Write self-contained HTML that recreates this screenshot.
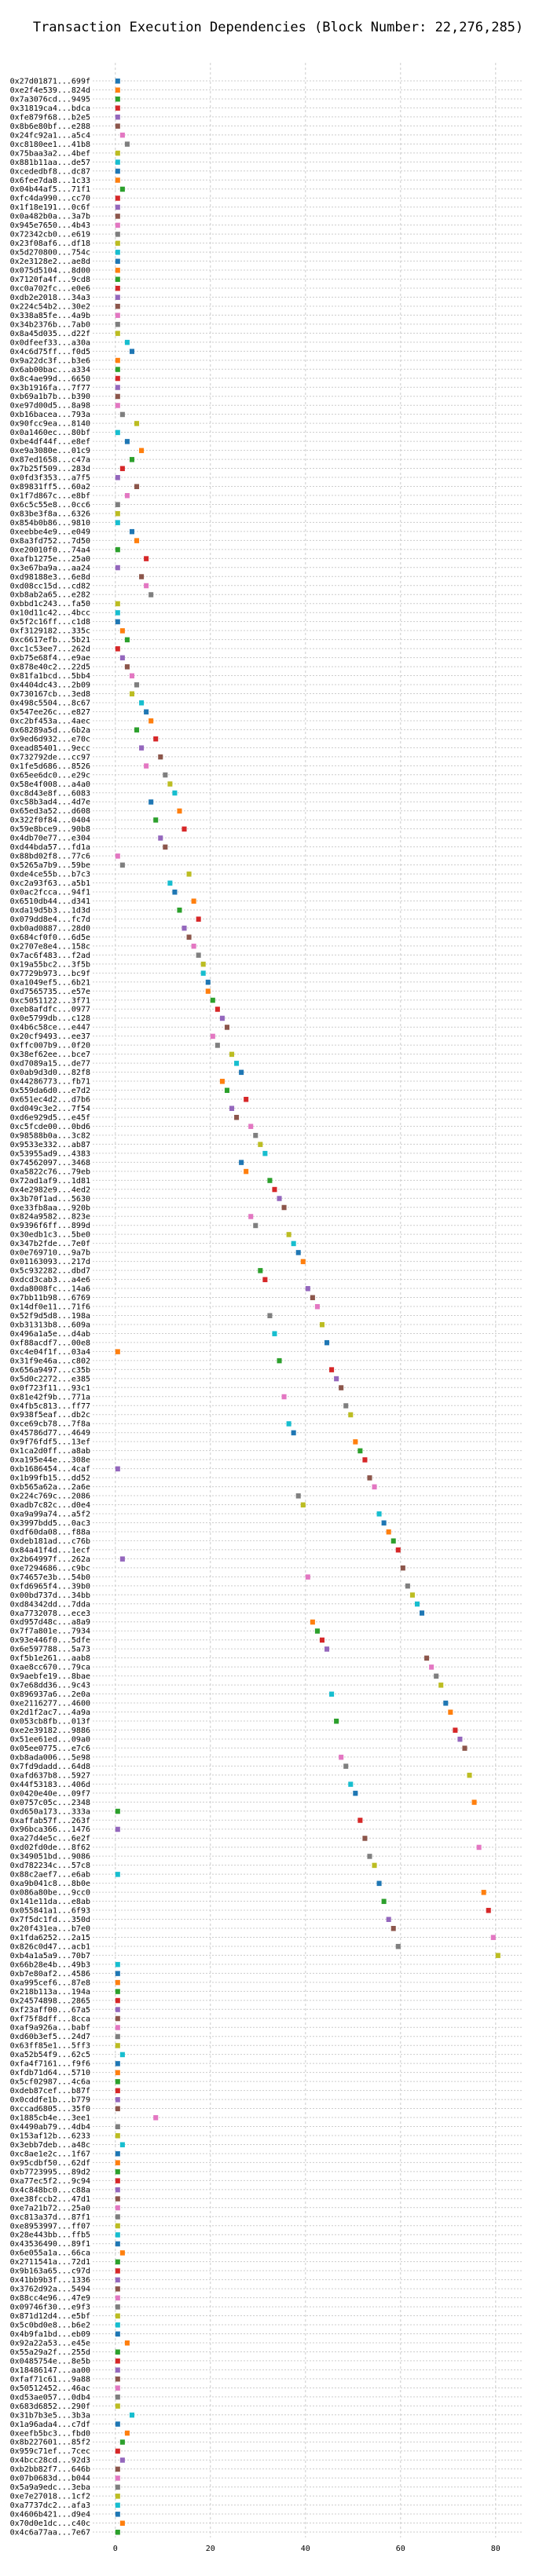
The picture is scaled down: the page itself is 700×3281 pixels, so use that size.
<!DOCTYPE html>
<html>
<head>
<meta charset="utf-8">
<style>
  html,body{margin:0;padding:0;background:#fff;}
  body{width:700px;height:3276px;overflow:hidden;}
  svg text{font-family:"DejaVu Sans Mono","Liberation Mono",monospace;}
</style>
</head>
<body>
<svg id="chart" width="700" height="3276" viewBox="0 0 700 3276" xmlns="http://www.w3.org/2000/svg">
  <text x="354" y="40" font-size="17" text-anchor="middle" fill="#000">Transaction Execution Dependencies (Block Number: 22,276,285)</text>
  <g id="grid"></g>
  <g id="rows"></g>
  <g id="marks"></g>
  <g id="ylabels"></g>
  <g id="xticks"></g>
</svg>
<script>
const txLabels = [
"0x27d01871...699f","0xe2f4e539...824d","0x7a3076cd...9495","0x31819ca4...bdca","0xfe879f68...b2e5","0x8b6e80bf...e288","0x24fc92a1...a5c4","0xc8180ee1...41b8","0x75baa3a2...4bef","0x881b11aa...de57",
"0xcededbf8...dc87","0x6fee7da8...1c33","0x04b44af5...71f1","0xfc4da990...cc70","0x1f18e191...0c6f","0x0a482b0a...3a7b","0x945e7650...4b43","0x72342cb0...e619","0x23f08af6...df18","0x5d270800...754c",
"0x2e3128e2...ae8d","0x075d5104...8d00","0x7120fa4f...9cd8","0xc0a702fc...e0e6","0xdb2e2018...34a3","0x224c54b2...30e2","0x338a85fe...4a9b","0x34b2376b...7ab0","0x8a45d035...d22f","0x0dfeef33...a30a",
"0x4c6d75ff...f0d5","0x9a22dc3f...b3e6","0x6ab00bac...a334","0x8c4ae99d...6650","0x3b1916fa...7f77","0xb69a1b7b...b390","0xe97d00d5...8a98","0xb16bacea...793a","0x90fcc9ea...8140","0x0a1460ec...80bf",
"0xbe4df44f...e8ef","0xe9a3080e...01c9","0x87ed1658...c47a","0x7b25f509...283d","0x0fd3f353...a7f5","0x89831ff5...60a2","0x1f7d867c...e8bf","0x6c5c55e8...0cc6","0x83be3f8a...6326","0x854b0b86...9810",
"0xeebbe4e9...e049","0x8a3fd752...7d50","0xe20010f0...74a4","0xafb1275e...25a0","0x3e67ba9a...aa24","0xd98188e3...6e8d","0xd08cc15d...cd82","0xb8ab2a65...e282","0xbbd1c243...fa50","0x10d11c42...4bcc",
"0x5f2c16ff...c1d8","0xf3129182...335c","0xc6617efb...5b21","0xc1c53ee7...262d","0xb75e68f4...e9ae","0x878e40c2...22d5","0x81fa1bcd...5bb4","0x4404dc43...2b09","0x730167cb...3ed8","0x498c5504...8c67",
"0x547ee26c...e827","0xc2bf453a...4aec","0x68289a5d...6b2a","0x9ed6d932...e70c","0xead85401...9ecc","0x732792de...cc97","0x1fe5d686...8526","0x65ee6dc0...e29c","0x58e4f008...a4a0","0xc8d43e8f...6083",
"0xc58b3ad4...4d7e","0x65ed3a52...d608","0x322f0f84...0404","0x59e8bce9...90b8","0x4db70e77...e304","0xd44bda57...fd1a","0x88bd02f8...77c6","0x5265a7b9...59be","0xde4ce55b...b7c3","0xc2a93f63...a5b1",
"0x0ac2fcca...94f1","0x6510db44...d341","0xda19d5b3...1d3d","0x079dd8e4...fc7d","0xb0ad0887...28d0","0x684cf0f0...6d5e","0x2707e8e4...158c","0x7ac6f483...f2ad","0x19a55bc2...3f5b","0x7729b973...bc9f",
"0xa1049ef5...6b21","0xd7565735...e57e","0xc5051122...3f71","0xeb8afdfc...0977","0x0e5799db...c128","0x4b6c58ce...e447","0x20cf9493...ee37","0xffc007b9...0f20","0x38ef62ee...bce7","0xd7089a15...de77",
"0x0ab9d3d0...82f8","0x44286773...fb71","0x559da6d0...e7d2","0x651ec4d2...d7b6","0xd049c3e2...7f54","0xd6e929d5...e45f","0xc5fcde00...0bd6","0x98588b0a...3c82","0x9533e332...ab87","0x53955ad9...4383",
"0x74562097...3468","0xa5822c76...79eb","0x72ad1af9...1d81","0x4e2982e9...4ed2","0x3b70f1ad...5630","0xe33fb8aa...920b","0x824a9582...823e","0x9396f6ff...899d","0x30edb1c3...5be0","0x347b2fde...7e0f",
"0x0e769710...9a7b","0x01163093...217d","0x5c932282...dbd7","0xdcd3cab3...a4e6","0xda8008fc...14a6","0x7bb11b98...6769","0x14df0e11...71f6","0x52f9d5d8...198a","0xb31313b8...609a","0x496a1a5e...d4ab",
"0xf88acdf7...00e8","0xc4e04f1f...03a4","0x31f9e46a...c802","0x656a9497...c35b","0x5d0c2272...e385","0x0f723f11...93c1","0x81e42f9b...771a","0x4fb5c813...ff77","0x938f5eaf...db2c","0xce69cb78...7f8a",
"0x45786d77...4649","0x9f76fdf5...13ef","0x1ca2d0ff...a8ab","0xa195e44e...308e","0xb1686454...4caf","0x1b99fb15...dd52","0xb565a62a...2a6e","0x224c769c...2086","0xadb7c82c...d0e4","0xa9a99a74...a5f2",
"0x3997bdd5...0ac3","0xdf60da08...f88a","0xdeb181ad...c76b","0x84a41f4d...1ecf","0x2b64997f...262a","0xe7294686...c9bc","0x74657e3b...54b0","0xfd6965f4...39b0","0x00bd737d...34bb","0xd84342dd...7dda",
"0xa7732078...ece3","0xd957d48c...a8a9","0x7f7a801e...7934","0x93e446f0...5dfe","0x6e597788...5a73","0xf5b1e261...aab8","0xae8cc670...79ca","0x9aebfe19...8bae","0x7e68dd36...9c43","0x896937a6...2e0a",
"0xe2116277...4600","0x2d1f2ac7...4a9a","0x053cb8fb...013f","0xe2e39182...9886","0x51ee61ed...09a0","0x05ee0775...e7c6","0xb8ada006...5e98","0x7fd9dadd...64d8","0xafd637b8...5927","0x44f53183...406d",
"0x0420e40e...09f7","0x0757c05c...2348","0xd650a173...333a","0xaffab57f...263f","0x96bca366...1476","0xa27d4e5c...6e2f","0xd02fd0de...8f62","0x349051bd...9086","0xd782234c...57c8","0x88c2aef7...e6ab",
"0xa9b041c8...8b0e","0x086a80be...9cc0","0x141e11da...e8ab","0x055841a1...6f93","0x7f5dc1fd...350d","0x20f431ea...b7e0","0x1fda6252...2a15","0x826c0d47...acb1","0xb4a1a5a9...70b7","0x66b28e4b...49b3",
"0xb7e80af2...4586","0xa995cef6...87e8","0x218b113a...194a","0x24574898...2865","0xf23aff00...67a5","0xf75f8dff...8cca","0xaf9a926a...babf","0xd60b3ef5...24d7","0x63ff85e1...5ff3","0xa52b54f9...62c5",
"0xfa4f7161...f9f6","0xfdb71d64...5710","0x5cf02987...4c6a","0xdeb87cef...b87f","0x0cddfe1b...b779","0xccad6805...35f0","0x1885cb4e...3ee1","0x4490ab79...4db4","0x153af12b...6233","0x3ebb7deb...a48c",
"0xc8ae1e2c...1f67","0x95cdbf50...62df","0xb7723995...89d2","0xa77ec5f2...9c94","0x4c848bc0...c88a","0xe38fccb2...47d1","0xe7a21b72...25a0","0xc813a37d...87f1","0xe8953997...ff07","0x28e443bb...ffb5",
"0x43536490...89f1","0x6e055a1a...66ca","0x2711541a...72d1","0x9b163a65...c97d","0x41bb9b3f...1336","0x3762d92a...5494","0x88cc4e96...47e9","0x09746f30...e9f3","0x871d12d4...e5bf","0x5c0bd0e8...b6e2",
"0x4b9fa1bd...eb09","0x92a22a53...e45e","0x55a29a2f...255d","0x0485754e...8e5b","0x18486147...aa00","0xfaf71c61...9a88","0x50512452...46ac","0xd53ae057...0db4","0x683d6852...290f","0x31b7b3e5...3b3a",
"0x1a96ada4...c7df","0xeefb5bc3...fbd0","0x8b227601...85f2","0x959c71ef...7cec","0x4bcc28cd...92d3","0xb2bb82f7...646b","0x07b0683d...b044","0x5a9a9edc...3eba","0xe7e27018...1cf2","0xa7737dc2...afa3",
"0x4606b421...d9e4","0x70d0e1dc...c40c","0x4c6a77aa...7e67"
];
const startSteps = [
0,0,0,0,0,0,1,2,0,0, 0,0,1,0,0,0,0,0,0,0,
0,0,0,0,0,0,0,0,0,2, 3,0,0,0,0,0,0,1,4,0,
2,5,3,1,0,4,2,0,0,0, 3,4,0,6,0,5,6,7,0,0,
0,1,2,0,1,2,3,4,3,5, 6,7,4,8,5,9,6,10,11,12,
7,13,8,14,9,10,0,1,15,11, 12,16,13,17,14,15,16,17,18,18,
19,19,20,21,22,23,20,21,24,25, 26,22,23,27,24,25,28,29,30,31,
26,27,32,33,34,35,28,29,36,37, 38,39,30,31,40,41,42,32,43,33,
44,0,34,45,46,47,35,48,49,36, 37,50,51,52,0,53,54,38,39,55,
56,57,58,59,1,60,40,61,62,63, 64,41,42,43,44,65,66,67,68,45,
69,70,46,71,72,73,47,48,74,49, 50,75,0,51,0,52,76,53,54,0,
55,77,56,78,57,58,79,59,80,0, 0,0,0,0,0,0,0,0,0,1,
0,0,0,0,0,0,8,0,0,1, 0,0,0,0,0,0,0,0,0,0,
0,1,0,0,0,0,0,0,0,0, 0,2,0,0,0,0,0,0,0,3,
0,2,1,0,1,0,0,0,0,0, 0,1,0
];
const xTicks = [0,20,40,60,80];
const palette = ["#1f77b4","#ff7f0e","#2ca02c","#d62728","#9467bd","#8c564b","#e377c2","#7f7f7f","#bcbd22","#17becf"];

const NS = "http://www.w3.org/2000/svg";
const X0 = 146.8, UNIT = 6.05, Y0 = 103, ROW = 11.478;
const xScale = v => X0 + v * UNIT;
const yScale = i => Y0 + i * ROW;
const gridTop = 80, gridBottom = yScale(txLabels.length - 1) + 7;
const rowLeft = 118, rowRight = 666;

function mk(tag, attrs, parent) {
  const el = document.createElementNS(NS, tag);
  for (const k in attrs) el.setAttribute(k, attrs[k]);
  parent.appendChild(el);
  return el;
}
const grid = document.getElementById("grid");
const rows = document.getElementById("rows");
const marks = document.getElementById("marks");
const ylabels = document.getElementById("ylabels");
const xticks = document.getElementById("xticks");

xTicks.forEach(t => {
  const l = mk("line", {x1: xScale(t), x2: xScale(t), y1: gridTop, y2: gridBottom, stroke: "#cccccc", "stroke-width": 1, "stroke-dasharray": "3,3"}, grid);
  
  
  const tx = mk("text", {x: xScale(t), y: 3249, "font-size": 10, "text-anchor": "middle", fill: "#000"}, xticks);
  tx.textContent = t;
  
  
});

txLabels.forEach((lab, i) => {
  const y = yScale(i);
  const rl = mk("line", {x1: rowLeft, x2: rowRight, y1: y, y2: y, stroke: "#cccccc", "stroke-width": 1, "stroke-dasharray": "2,2"}, rows);
  
  
  const t = mk("text", {x: 115, y: y + 3.5, "font-size": 10, "text-anchor": "end", fill: "#000"}, ylabels);
  t.textContent = lab;
  
  
  const v = startSteps[i];
  const r = mk("rect", {x: xScale(v), y: y - 3, width: UNIT, height: 6.5, fill: palette[i % 10]}, marks);
  
  
});
</script>
</body>
</html>
